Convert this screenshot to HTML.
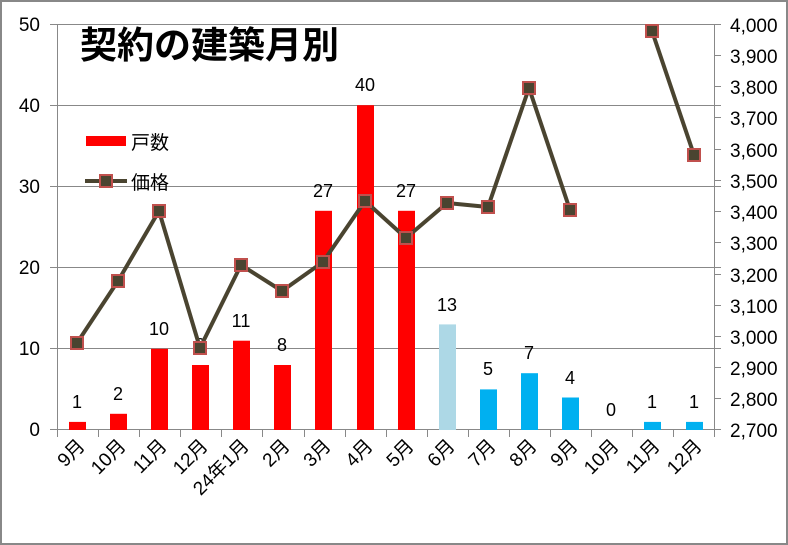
<!DOCTYPE html>
<html><head><meta charset="utf-8"><style>
body{margin:0;background:#fff}
svg{display:block}
text{font-family:"Liberation Sans","Noto Sans CJK JP",sans-serif;fill:#000}
</style></head><body>
<svg width="788" height="545" xmlns="http://www.w3.org/2000/svg">
<rect x="1" y="1" width="786" height="543" fill="#fff" stroke="#888" stroke-width="2"/>
<g stroke="#888" stroke-width="1">
<line x1="50" y1="24.5" x2="721" y2="24.5"/>
<line x1="50" y1="105.5" x2="721" y2="105.5"/>
<line x1="50" y1="186.5" x2="721" y2="186.5"/>
<line x1="50" y1="267.5" x2="721" y2="267.5"/>
<line x1="50" y1="348.5" x2="721" y2="348.5"/>
<line x1="50" y1="429.5" x2="721" y2="429.5"/>
<line x1="57.5" y1="24" x2="57.5" y2="430"/>
<line x1="714.5" y1="24" x2="714.5" y2="430"/>
<line x1="714" y1="55.5" x2="721" y2="55.5"/>
<line x1="714" y1="86.5" x2="721" y2="86.5"/>
<line x1="714" y1="117.5" x2="721" y2="117.5"/>
<line x1="714" y1="149.5" x2="721" y2="149.5"/>
<line x1="714" y1="180.5" x2="721" y2="180.5"/>
<line x1="714" y1="211.5" x2="721" y2="211.5"/>
<line x1="714" y1="242.5" x2="721" y2="242.5"/>
<line x1="714" y1="274.5" x2="721" y2="274.5"/>
<line x1="714" y1="305.5" x2="721" y2="305.5"/>
<line x1="714" y1="336.5" x2="721" y2="336.5"/>
<line x1="714" y1="367.5" x2="721" y2="367.5"/>
<line x1="714" y1="398.5" x2="721" y2="398.5"/>
</g>
<g stroke="#888">
<path d="M57.5 430v7M98.5 430v7M139.5 430v7M180.5 430v7M221.5 430v7M262.5 430v7M304.5 430v7M345.5 430v7M386.5 430v7M427.5 430v7M468.5 430v7M509.5 430v7M550.5 430v7M591.5 430v7M632.5 430v7M673.5 430v7M714.5 430v7"/>
</g>
<g font-size="19" text-anchor="end">
<text x="40" y="31">50</text><text x="40" y="112">40</text><text x="40" y="193">30</text>
<text x="40" y="274">20</text><text x="40" y="355">10</text><text x="40" y="436">0</text>
</g>
<g font-size="19">
<text x="730" y="32">4,000</text><text x="730" y="63">3,900</text><text x="730" y="94">3,800</text>
<text x="730" y="125">3,700</text><text x="730" y="157">3,600</text><text x="730" y="188">3,500</text>
<text x="730" y="219">3,400</text><text x="730" y="250">3,300</text><text x="730" y="282">3,200</text>
<text x="730" y="313">3,100</text><text x="730" y="344">3,000</text><text x="730" y="375">2,900</text>
<text x="730" y="406">2,800</text><text x="730" y="437">2,700</text>
</g>
<g fill="#f00">
<rect x="69" y="421.9" width="17" height="8.1"/>
<rect x="110" y="413.8" width="17" height="16.2"/>
<rect x="151" y="348.8" width="17" height="81.2"/>
<rect x="192" y="365" width="17" height="65"/>
<rect x="233" y="340.7" width="17" height="89.3"/>
<rect x="274" y="365" width="17" height="65"/>
<rect x="315" y="210.8" width="17" height="219.2"/>
<rect x="357" y="105.2" width="17" height="324.8"/>
<rect x="398" y="210.8" width="17" height="219.2"/>
</g>
<rect x="439" y="324.4" width="17" height="105.6" fill="#add8e6"/>
<g fill="#00b0f0">
<rect x="480" y="389.4" width="17" height="40.6"/>
<rect x="521" y="373.2" width="17" height="56.8"/>
<rect x="562" y="397.5" width="17" height="32.5"/>
<rect x="644" y="421.9" width="17" height="8.1"/>
<rect x="686" y="421.9" width="17" height="8.1"/>
</g>
<g font-size="18" text-anchor="middle">
<text x="77" y="408">1</text><text x="118" y="400">2</text><text x="159" y="335">10</text>
<text x="200" y="351">8</text><text x="241" y="327">11</text><text x="282" y="351">8</text>
<text x="323" y="197">27</text><text x="365" y="91">40</text><text x="406" y="197">27</text>
<text x="447" y="311">13</text><text x="488" y="375">5</text><text x="529" y="359">7</text>
<text x="570" y="384">4</text><text x="611" y="416">0</text><text x="652" y="408">1</text><text x="694" y="408">1</text>
</g>
<g fill="none" stroke="#4a4430" stroke-width="4" stroke-linejoin="round">
<polyline points="77,343 118,281 159,211 200,348 241,265 282,291 323,262 365,201 406,238 447,203 488,207 529,88 570,210"/>
<polyline points="652,31 694,155"/>
</g>
<g fill="#4a4430" stroke="#c0504d" stroke-width="2">
<rect x="71" y="337" width="12" height="12"/><rect x="112" y="275" width="12" height="12"/>
<rect x="153" y="205" width="12" height="12"/><rect x="194" y="342" width="12" height="12"/>
<rect x="235" y="259" width="12" height="12"/><rect x="276" y="285" width="12" height="12"/>
<rect x="317" y="256" width="12" height="12"/><rect x="359" y="195" width="12" height="12"/>
<rect x="400" y="232" width="12" height="12"/><rect x="441" y="197" width="12" height="12"/>
<rect x="482" y="201" width="12" height="12"/><rect x="523" y="82" width="12" height="12"/>
<rect x="564" y="204" width="12" height="12"/><rect x="646" y="25" width="12" height="12"/>
<rect x="688" y="149" width="12" height="12"/>
</g>
<text x="80" y="58" font-size="37" font-weight="bold">契約の建築月別</text>
<rect x="86" y="136" width="40" height="10" fill="#f00"/>
<text x="131" y="149" font-size="19">戸数</text>
<line x1="85" y1="181" x2="127" y2="181" stroke="#4a4430" stroke-width="4"/>
<rect x="100" y="175" width="12" height="12" fill="#4a4430" stroke="#c0504d" stroke-width="2"/>
<text x="131" y="189" font-size="19">価格</text>
<g font-size="19" text-anchor="end">
<text transform="translate(86,447) rotate(-45)">9月</text>
<text transform="translate(127,447) rotate(-45)">10月</text>
<text transform="translate(168,447) rotate(-45)">11月</text>
<text transform="translate(209,447) rotate(-45)">12月</text>
<text transform="translate(250,447) rotate(-45)">24年1月</text>
<text transform="translate(291,447) rotate(-45)">2月</text>
<text transform="translate(332,447) rotate(-45)">3月</text>
<text transform="translate(374,447) rotate(-45)">4月</text>
<text transform="translate(415,447) rotate(-45)">5月</text>
<text transform="translate(456,447) rotate(-45)">6月</text>
<text transform="translate(497,447) rotate(-45)">7月</text>
<text transform="translate(538,447) rotate(-45)">8月</text>
<text transform="translate(579,447) rotate(-45)">9月</text>
<text transform="translate(620,447) rotate(-45)">10月</text>
<text transform="translate(661,447) rotate(-45)">11月</text>
<text transform="translate(703,447) rotate(-45)">12月</text>
</g>
</svg>
</body></html>
